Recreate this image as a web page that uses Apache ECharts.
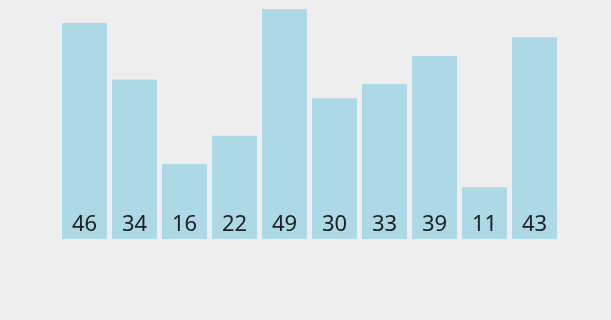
<!DOCTYPE html>
<html><head><meta charset="utf-8">
<style>html,body{margin:0;padding:0;background:#eeeeee;}#c{width:611px;height:320px;}</style>
<script src="https://cdn.jsdelivr.net/npm/echarts@6/dist/echarts.min.js"></script>
</head><body><div id="c"></div>
<script>
const categories = ['1','2','3','4','5','6','7','8','9','10'];
const values = [46, 34, 16, 22, 49, 30, 33, 39, 11, 43];
const chart = echarts.init(document.getElementById('c'), null, {renderer:'canvas'});
chart.setOption({
  backgroundColor: '#eeeeee',
  animation: false,
  grid: {left: 59.5, width: 500, top: 9, bottom: 81},
  xAxis: {type: 'category', data: categories, show: false},
  yAxis: {type: 'value', min: 0, max: 49, show: false},
  series: [{
    type: 'bar',
    data: values,
    barWidth: 45,
    itemStyle: {color: '#add8e6'},
    label: {show: true, position: 'insideBottom', distance: 3, color: '#222', fontSize: 22, fontFamily: 'Noto Sans'}
  }]
});
</script></body></html>
